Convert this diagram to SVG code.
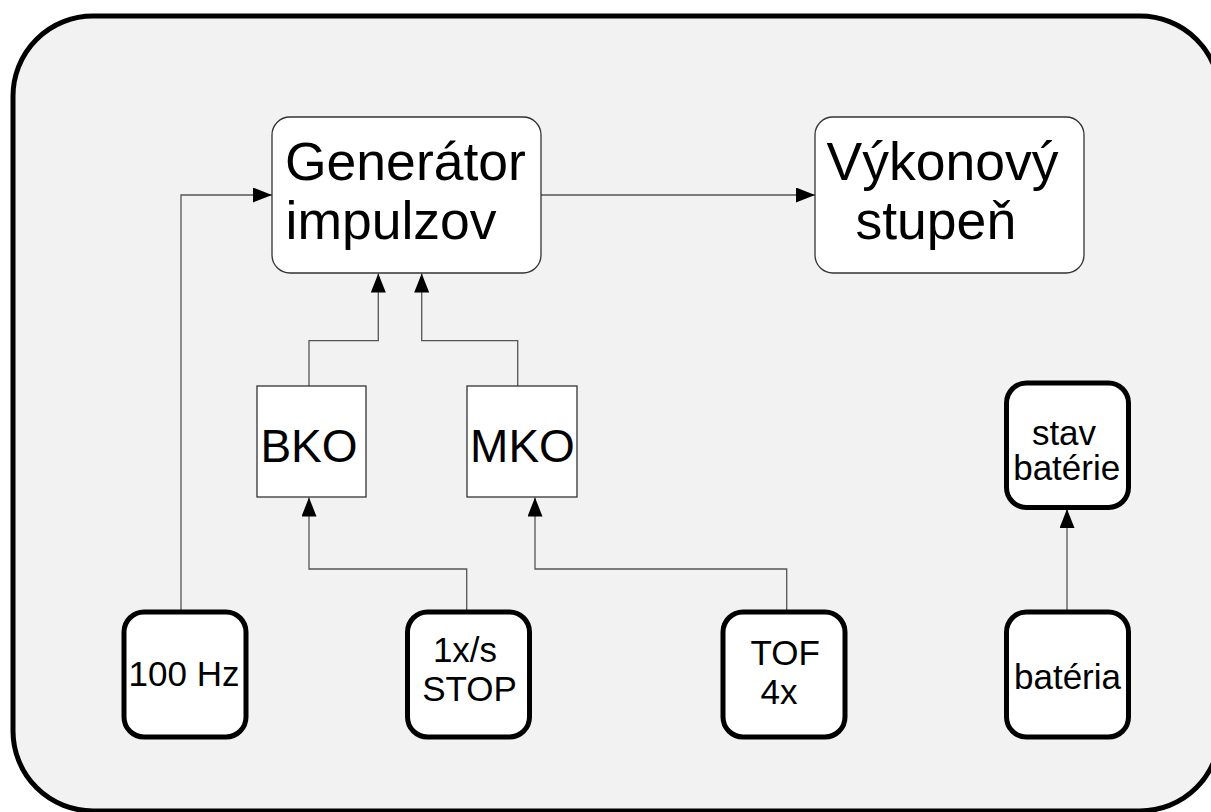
<svg xmlns="http://www.w3.org/2000/svg" width="1211" height="812" viewBox="0 0 1211 812">
<defs>
<style>
text{font-family:"Liberation Sans",Arial,sans-serif;fill:#000}
.thin{fill:#fff;stroke:#333;stroke-width:1.3}
.thick{fill:#fff;stroke:#000;stroke-width:5}
.conn{fill:none;stroke:#555;stroke-width:1.3}
.big{font-size:53.5px}
.mid{font-size:46px}
.sm{font-size:35px}
</style>
<marker id="arr" markerUnits="userSpaceOnUse" viewBox="0 0 19 15" refX="19" refY="7.5" markerWidth="19" markerHeight="15" orient="auto">
<path d="M0,0 L19,7.5 L0,15 Z" fill="#000"/>
</marker>
</defs>
<rect width="1211" height="812" fill="#fff"/>
<rect id="frame" x="13" y="16" width="1207" height="795" rx="80" fill="#f2f2f2" stroke="#000" stroke-width="5"/>
<g id="connectors">
<path class="conn" d="M181,610 V195 H272" marker-end="url(#arr)"/>
<path class="conn" d="M541,195 H815" marker-end="url(#arr)"/>
<path class="conn" d="M309,386 V340.7 H378.3 V273.5" marker-end="url(#arr)"/>
<path class="conn" d="M517.7,386 V340.7 H421.7 V273.5" marker-end="url(#arr)"/>
<path class="conn" d="M466.7,610 V569 H309 V497.5" marker-end="url(#arr)"/>
<path class="conn" d="M786.7,610 V569 H535 V497.5" marker-end="url(#arr)"/>
<path class="conn" d="M1067,610 V509" marker-end="url(#arr)"/>
</g>
<g id="generator">
<rect class="thin" x="272" y="117" width="269" height="156" rx="18"/>
<text class="big" x="285" y="180">Generátor</text>
<text class="big" x="285.5" y="239">impulzov</text>
</g>
<g id="vykonovy">
<rect class="thin" x="815" y="117" width="269" height="156" rx="18"/>
<text class="big" x="826.5" y="180">Výkonový</text>
<text class="big" x="855.5" y="239">stupeň</text>
</g>
<g id="bko">
<rect class="thin" x="257" y="386" width="109" height="111"/>
<text class="mid" x="309" y="461.5" text-anchor="middle">BKO</text>
</g>
<g id="mko">
<rect class="thin" x="467" y="386" width="110" height="111"/>
<text class="mid" x="522.5" y="461.5" text-anchor="middle">MKO</text>
</g>
<g id="hz100">
<rect class="thick" x="124" y="612" width="122" height="125" rx="20"/>
<text class="sm" x="184" y="686" text-anchor="middle">100 Hz</text>
</g>
<g id="stop">
<rect class="thick" x="407.5" y="612" width="122" height="125" rx="20"/>
<text class="sm" x="465" y="661.5" text-anchor="middle">1x/s</text>
<text class="sm" x="469.5" y="701" text-anchor="middle">STOP</text>
</g>
<g id="tof">
<rect class="thick" x="723" y="612" width="122" height="125" rx="20"/>
<text class="sm" x="785.3" y="665" text-anchor="middle">TOF</text>
<text class="sm" x="779" y="704" text-anchor="middle">4x</text>
</g>
<g id="bateria">
<rect class="thick" x="1006.5" y="612" width="122" height="125" rx="20"/>
<text class="sm" x="1067.5" y="689" text-anchor="middle">batéria</text>
</g>
<g id="stav">
<rect class="thick" x="1006.5" y="383" width="122" height="124.5" rx="20"/>
<text class="sm" x="1064" y="445" text-anchor="middle">stav</text>
<text class="sm" x="1066.7" y="480" text-anchor="middle">batérie</text>
</g>
</svg>
